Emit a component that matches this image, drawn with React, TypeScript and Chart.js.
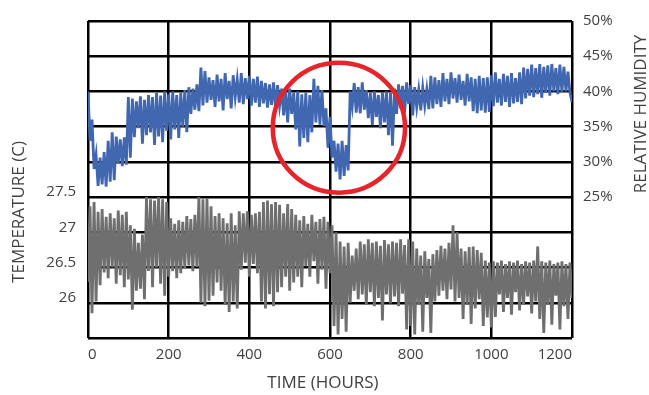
import React, { useEffect, useRef } from "react";
import { Chart, registerables } from "chart.js";

Chart.register(...registerables);

// Time stamps (hours)
const HOURS = [
  0, 5, 10, 15, 20, 25, 30, 35, 40, 45, 50, 55, 60, 65, 70, 75, 80, 85, 90, 95,
  100, 105, 110, 115, 120, 125, 130, 135, 140, 145, 150, 155, 160, 165, 170, 175, 180, 185, 190, 195,
  200, 205, 210, 215, 220, 225, 230, 235, 240, 245, 250, 255, 260, 265, 270, 275, 280, 285, 290, 295,
  300, 305, 310, 315, 320, 325, 330, 335, 340, 345, 350, 355, 360, 365, 370, 375, 380, 385, 390, 395,
  400, 405, 410, 415, 420, 425, 430, 435, 440, 445, 450, 455, 460, 465, 470, 475, 480, 485, 490, 495,
  500, 505, 510, 515, 520, 525, 530, 535, 540, 545, 550, 555, 560, 565, 570, 575, 580, 585, 590, 595,
  600, 605, 610, 615, 620, 625, 630, 635, 640, 645, 650, 655, 660, 665, 670, 675, 680, 685, 690, 695,
  700, 705, 710, 715, 720, 725, 730, 735, 740, 745, 750, 755, 760, 765, 770, 775, 780, 785, 790, 795,
  800, 805, 810, 815, 820, 825, 830, 835, 840, 845, 850, 855, 860, 865, 870, 875, 880, 885, 890, 895,
  900, 905, 910, 915, 920, 925, 930, 935, 940, 945, 950, 955, 960, 965, 970, 975, 980, 985, 990, 995,
  1000, 1005, 1010, 1015, 1020, 1025, 1030, 1035, 1040, 1045, 1050, 1055, 1060, 1065, 1070, 1075, 1080, 1085, 1090, 1095,
  1100, 1105, 1110, 1115, 1120, 1125, 1130, 1135, 1140, 1145, 1150, 1155, 1160, 1165, 1170, 1175, 1180, 1185, 1190, 1195,
  1200,
];

// Relative humidity (%)
const HUMIDITY = [
  40, 33, 36, 29, 31, 26.6, 30.6, 26.8, 31.4, 26.5,
  33, 27.2, 34.2, 27.4, 33.6, 29.8, 33.2, 29.4, 33.5, 29.6,
  39.2, 30.6, 39, 33.5, 38.6, 34.8, 39.3, 32.6, 38.8, 33.8,
  39.5, 34.2, 39.2, 32.4, 39.8, 33.6, 39.4, 32.8, 40, 34.4,
  39.6, 33.2, 40, 34.6, 39.5, 33.4, 39.8, 35, 40.2, 34.2,
  40.6, 36.8, 40.4, 37.4, 41, 37.2, 43.4, 38, 42.9, 38.4,
  42, 38.8, 41.6, 37.8, 42.4, 38.6, 41.8, 37.3, 42.6, 38.9,
  41.5, 37.6, 42.3, 39.2, 41.7, 38.4, 42.6, 38.2, 41.9, 38.9,
  42.2, 38, 41.8, 38.4, 42.1, 37.8, 41.5, 38.3, 41.2, 37.7,
  41, 38.1, 41.3, 37.6, 40.9, 38, 40.4, 36.6, 40.2, 35.6,
  40.4, 36.8, 39.8, 34.6, 40, 32.2, 39.6, 33.4, 39.8, 32.8,
  39.5, 34.2, 41.8, 35.6, 40.8, 35.3, 40.2, 35.1, 37.6, 32,
  36.4, 30.6, 33, 28.6, 32.6, 27.5, 33, 28, 32.4, 28.8,
  40, 37.8, 41.2, 37, 40.6, 36.9, 41.3, 37.4, 40.2, 36.2,
  39.8, 35.2, 40, 36.4, 39.5, 34.8, 39.9, 35.6, 40, 33.8,
  39.8, 32.3, 40.4, 36.8, 41, 37.6, 40.8, 37, 41.3, 38.2,
  40.9, 36.6, 40.6, 37.8, 40.2, 37.3, 40.5, 38, 40.3, 37.5,
  42.2, 37.6, 42, 38.2, 41.6, 37.8, 42.6, 38.6, 41.8, 38.2,
  42.7, 39, 41.9, 38.4, 42.4, 38.8, 41.5, 38, 42.5, 38.6,
  42, 37.2, 41.8, 36.9, 42.2, 37.3, 41.9, 37, 42, 37.1,
  42.3, 37.9, 42.7, 38.4, 41.8, 38, 42.5, 38.5, 42.2, 37.8,
  42.6, 38.3, 41.9, 38.5, 42.7, 38.2, 43.4, 39, 43.2, 39.4,
  43.8, 39.2, 43.3, 39.6, 43.9, 39.1, 43.5, 39.8, 43.7, 39.4,
  43.9, 40, 43.3, 39.6, 43.8, 39.9, 43.5, 40, 42.8, 39.8, 38.5,
];

// Temperature (C)
const TEMPERATURE = [
  26.23, 27.3, 25.78, 27.36, 25.95, 27.22, 26.18, 27.26, 26.36, 27.15,
  26.28, 27.2, 26.43, 27.13, 26.2, 27.24, 26.32, 27.18, 26.15, 27.22,
  26.26, 27.03, 25.83, 26.98, 26.1, 26.78, 26.13, 26.9, 25.98, 27.43,
  26.38, 27.4, 26.15, 27.38, 26.43, 27.43, 26.2, 27.4, 26.03, 27.36,
  26.3, 27.13, 26.38, 27.05, 26.28, 27.1, 26.35, 27.08, 26.42, 27.16,
  26.46, 27.12, 26.38, 27.18, 26.44, 27.43, 25.93, 27.4, 25.88, 27.41,
  25.96, 27.3, 26.03, 27.16, 26.22, 27.2, 26.1, 27.13, 25.9, 27.06,
  25.8, 27.2, 25.95, 27.03, 25.85, 27.23, 26.4, 27.2, 26.5, 27.23,
  26.3, 27.18, 26.48, 27.2, 26.35, 27.22, 25.95, 27.36, 25.85, 27.38,
  26.05, 27.33, 25.88, 27.36, 26.08, 27.32, 26.15, 27.2, 26.3, 27.33,
  26.1, 27.26, 26.22, 27.18, 26.3, 27.1, 26.15, 27.16, 26.45, 27.05,
  26.3, 27.18, 26.52, 27.08, 26.2, 27.12, 26.4, 27.15, 26.13, 27.08,
  26.35, 27.03, 25.6, 26.93, 25.48, 26.8, 25.7, 26.73, 25.52, 26.78,
  25.93, 26.6, 26.1, 26.7, 25.98, 26.8, 26.05, 26.76, 25.9, 26.83,
  26.08, 26.78, 25.88, 26.8, 26.0, 26.74, 25.68, 26.82, 26.05, 26.76,
  25.92, 26.8, 26.02, 26.78, 25.88, 26.83, 26.06, 26.75, 25.55, 26.83,
  25.6, 26.8, 25.48, 26.7, 25.9, 26.6, 25.52, 26.66, 26.0, 26.55,
  25.5, 26.62, 25.95, 26.68, 26.03, 26.74, 26.1, 26.7, 25.98, 26.78,
  26.12, 27.03, 25.95, 26.93, 26.0, 26.7, 25.7, 26.66, 25.9, 26.72,
  25.63, 26.73, 25.85, 26.68, 25.98, 26.64, 25.6, 26.53, 25.72, 26.5,
  25.58, 26.52, 25.73, 26.5, 26.05, 26.53, 25.8, 26.48, 26.0, 26.52,
  25.76, 26.5, 26.08, 26.53, 25.82, 26.48, 25.9, 26.52, 26.02, 26.5,
  25.78, 26.53, 25.95, 26.73, 25.7, 26.52, 25.5, 26.5, 25.9, 26.53,
  25.62, 26.48, 26.03, 26.5, 25.55, 26.52, 25.88, 26.48, 25.7, 26.5, 26.0,
];

// Axis labels to show
const TEMP_TICKS = [26, 26.5, 27, 27.5];
const HUMIDITY_TICKS = [25, 30, 35, 40, 45, 50];

// Highlight circle (data units)
const CIRCLE_HOURS = 622;
const CIRCLE_HUMIDITY = 34.84;
const CIRCLE_R_HOURS = 164;
const CIRCLE_R_HUMIDITY = 9.22;

const TEXT = "#404040";
const FONT = "'Open Sans', sans-serif";

const annotate = {
  id: "annotate",
  afterDatasetsDraw(chart: any) {
    const { ctx, scales } = chart;
    const x = scales.x;
    const y = scales.yR;
    const cx = x.getPixelForValue(CIRCLE_HOURS);
    const cy = y.getPixelForValue(CIRCLE_HUMIDITY);
    const rx = Math.abs(x.getPixelForValue(CIRCLE_HOURS + CIRCLE_R_HOURS) - cx);
    const ry = Math.abs(y.getPixelForValue(CIRCLE_HUMIDITY + CIRCLE_R_HUMIDITY) - cy);
    ctx.save();
    ctx.strokeStyle = "#e8242b";
    ctx.lineWidth = 4.5;
    ctx.beginPath();
    ctx.ellipse(cx, cy, rx, ry, 0, 0, Math.PI * 2);
    ctx.stroke();
    ctx.restore();
  },
  afterDraw(chart: any) {
    const { ctx } = chart;
    ctx.save();
    ctx.fillStyle = TEXT;
    ctx.font = `17px ${FONT}`;
    ctx.textAlign = "center";
    ctx.textBaseline = "middle";
    ctx.fillText("TIME (HOURS)", 323, 383);
    ctx.save();
    ctx.translate(19, 212);
    ctx.rotate(-Math.PI / 2);
    ctx.fillText("TEMPERATURE (C)", 0, 0);
    ctx.restore();
    ctx.save();
    ctx.translate(641, 114);
    ctx.rotate(-Math.PI / 2);
    ctx.fillText("RELATIVE HUMIDITY", 0, 0);
    ctx.restore();
    ctx.restore();
  },
};

export default function App() {
  const ref = useRef<HTMLCanvasElement | null>(null);

  useEffect(() => {
    document.body.style.margin = "0";
    const canvas = ref.current;
    if (!canvas) return;
    const tickFont = { family: FONT, size: 15 };
    const chart = new Chart(canvas, {
      type: "line",
      data: {
        datasets: [
          {
            label: "Relative humidity",
            data: HOURS.map((h, i) => ({ x: h, y: HUMIDITY[i] })),
            yAxisID: "yR",
            borderColor: "#4167b1",
            borderWidth: 2.8,
            pointRadius: 0,
            tension: 0,
          },
          {
            label: "Temperature",
            data: HOURS.map((h, i) => ({ x: h, y: TEMPERATURE[i] })),
            yAxisID: "yL",
            borderColor: "#6e6f6e",
            borderWidth: 2.8,
            pointRadius: 0,
            tension: 0,
          },
        ],
      },
      options: {
        animation: false,
        responsive: false,
        devicePixelRatio: 1,
        layout: { padding: { top: 16, left: 0, right: 0, bottom: 0 } },
        plugins: {
          legend: { display: false },
          tooltip: { enabled: false },
        },
        scales: {
          x: {
            type: "linear",
            min: 0,
            max: 1200,
            ticks: {
              stepSize: 200,
              color: TEXT,
              font: tickFont,
              padding: 8,
              align: "inner",
              maxRotation: 0,
              callback: (v: any) => String(v),
            },
            grid: { color: "#000", lineWidth: 2.5, drawTicks: false },
            border: { display: false },
            afterFit: (s: any) => {
              s.height = 57;
            },
          },
          yL: {
            type: "linear",
            position: "left",
            min: 25.43,
            max: 29.93,
            ticks: {
              color: TEXT,
              font: tickFont,
              padding: 12,
              callback: (v: any) => String(v),
            },
            afterBuildTicks: (s: any) => {
              s.ticks = TEMP_TICKS.map((value) => ({ value }));
            },
            grid: { display: false, drawTicks: false },
            border: { display: false },
            afterFit: (s: any) => {
              s.width = 88;
            },
          },
          yR: {
            type: "linear",
            position: "right",
            min: 5,
            max: 50,
            ticks: {
              stepSize: 5,
              color: TEXT,
              font: tickFont,
              padding: 11,
              callback: (v: any) => (HUMIDITY_TICKS.includes(Number(v)) ? `${v}%` : ""),
            },
            grid: { color: "#000", lineWidth: 2.5, drawTicks: false },
            border: { display: false },
            afterFit: (s: any) => {
              s.width = 77;
            },
          },
        },
      },
      plugins: [annotate],
    });
    return () => chart.destroy();
  }, []);

  return (
    <div style={{ width: 649, height: 395 }}>
      <canvas ref={ref} width={649} height={395} />
    </div>
  );
}
